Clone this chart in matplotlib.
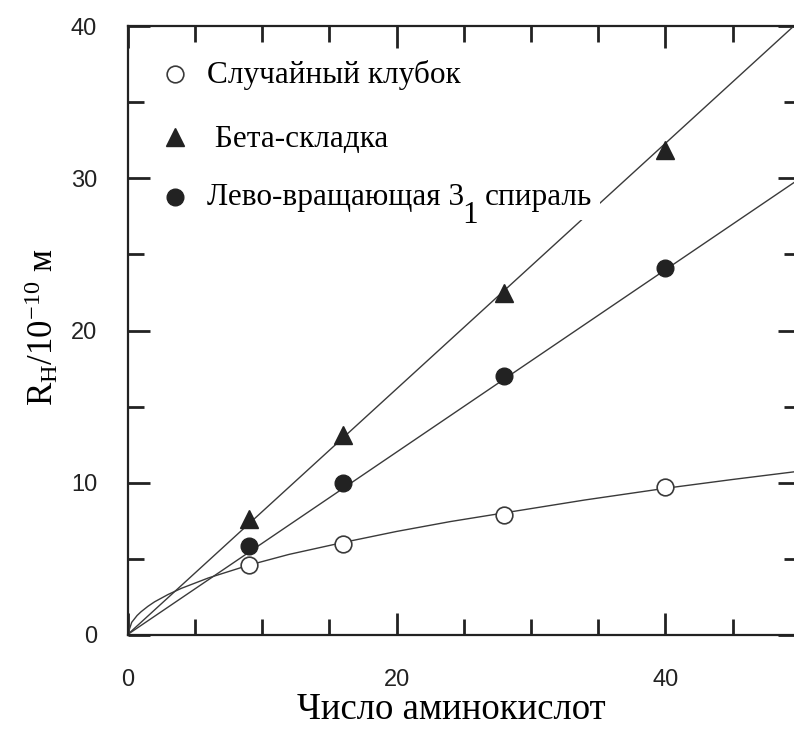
import matplotlib
matplotlib.use("Agg")
import matplotlib.pyplot as plt
from matplotlib.ticker import MultipleLocator, FixedLocator

plt.rcParams.update({
    'mathtext.fontset': 'custom',
    'mathtext.rm': 'Liberation Serif',
    'mathtext.it': 'Liberation Serif:italic',
    'mathtext.bf': 'Liberation Serif:bold',
})

# measured points (number of residues vs hydrodynamic radius)
n_res = [9, 16, 28, 40]
coil = [4.55, 5.95, 7.85, 9.68]
beta = [7.6, 13.1, 22.5, 31.9]
helix = [5.8, 9.95, 17.0, 24.1]

# fitted curves
fit_x = [0, 50]
beta_fit = [0, 40.4]
helix_fit = [0, 30.0]
coil_fit_x = [0, 0.3, 0.7, 1, 1.5, 2, 3, 4, 6, 9, 12, 16, 20, 24, 28, 34, 40, 45, 50]
coil_fit_y = [0, 0.8, 1.25, 1.5, 1.85, 2.15, 2.63, 3.04, 3.72, 4.56, 5.27, 6.05,
              6.78, 7.43, 8.0, 8.85, 9.62, 10.2, 10.75]

labels = ["Случайный клубок", " Бета-складка", "Лево-вращающая 3"]
label_sub = "1"
label_tail = "спираль"

line_col = '#3a3a3a'
mark_col = '#222222'
serif = 'Liberation Serif'

fig = plt.figure(figsize=(7.94, 7.36), dpi=100)
ax = fig.add_axes([0.1608, 0.1379, 0.8467, 0.8261])

ax.plot(fit_x, beta_fit, color=line_col, lw=1.0, zorder=2)
ax.plot(fit_x, helix_fit, color=line_col, lw=1.0, zorder=2)
ax.plot(coil_fit_x, coil_fit_y, color=line_col, lw=1.0, zorder=2)

ax.plot(n_res, beta, ls='none', marker='^', ms=13, color=mark_col, zorder=4)
ax.plot(n_res, helix, ls='none', marker='o', ms=12, color=mark_col, zorder=4)
ax.plot(n_res, coil, ls='none', marker='o', ms=12, mfc='white', mec=line_col,
        mew=1.2, zorder=4)

ax.set_xlim(0, 50)
ax.set_ylim(0, 40)

# hand-drawn legend
leg_marker_x = 3.52
leg_text_x = 5.9
leg_y = [36.26, 32.09, 28.26]
ax.plot(leg_marker_x, 36.9, marker='o', ms=12, mfc='white', mec=line_col, mew=1.2)
ax.plot(leg_marker_x, 32.75, marker='^', ms=13, color=mark_col)
ax.plot(leg_marker_x, 28.8, marker='o', ms=12, color=mark_col)
texts = []
for lab, ty in zip(labels, leg_y):
    t = ax.text(leg_text_x, ty, lab, fontsize=22.5, family=serif,
                va='baseline', ha='left', color='black', zorder=5)
    texts.append(t)

# big, dropped subscript "1" and the rest of the third label
last = texts[-1]
ax.annotate(label_sub, xy=(1, 0), xycoords=last, xytext=(-1, -13),
            textcoords='offset points', fontsize=22.5, family=serif,
            ha='left', va='bottom', zorder=5)
ax.annotate(label_tail, xy=(1, 0), xycoords=last, xytext=(14.5, 0),
            textcoords='offset points', fontsize=22.5, family=serif,
            ha='left', va='bottom', zorder=5,
            bbox=dict(fc='white', ec='none', pad=6))

# ticks
ax.xaxis.set_major_locator(FixedLocator([0, 20, 40]))
ax.xaxis.set_minor_locator(MultipleLocator(5))
ax.yaxis.set_major_locator(MultipleLocator(10))
ax.yaxis.set_minor_locator(MultipleLocator(5))
ax.tick_params(which='both', direction='in', top=True, right=True, width=2,
               color='#222222')
ax.tick_params(which='major', length=16)
ax.tick_params(which='minor', length=11.5)
ax.tick_params(axis='y', which='major', pad=22, labelsize=17, labelcolor='#222222')
ax.tick_params(axis='x', which='major', pad=25, labelsize=17, labelcolor='#222222')
for lab in ax.get_xticklabels() + ax.get_yticklabels():
    lab.set_family('Liberation Sans')

for sp in ax.spines.values():
    sp.set_linewidth(1.6)
    sp.set_color('#222222')

ax.set_xlabel("Число аминокислот", fontsize=26.5, family=serif)
ax.xaxis.set_label_coords(0.481, -0.095)
ax.set_ylabel(r"$\mathregular{R_H/10^{-10}}$ м", fontsize=25, family=serif)
ax.yaxis.set_label_coords(-0.1, 0.505)

fig.savefig("out.png", dpi=100)
